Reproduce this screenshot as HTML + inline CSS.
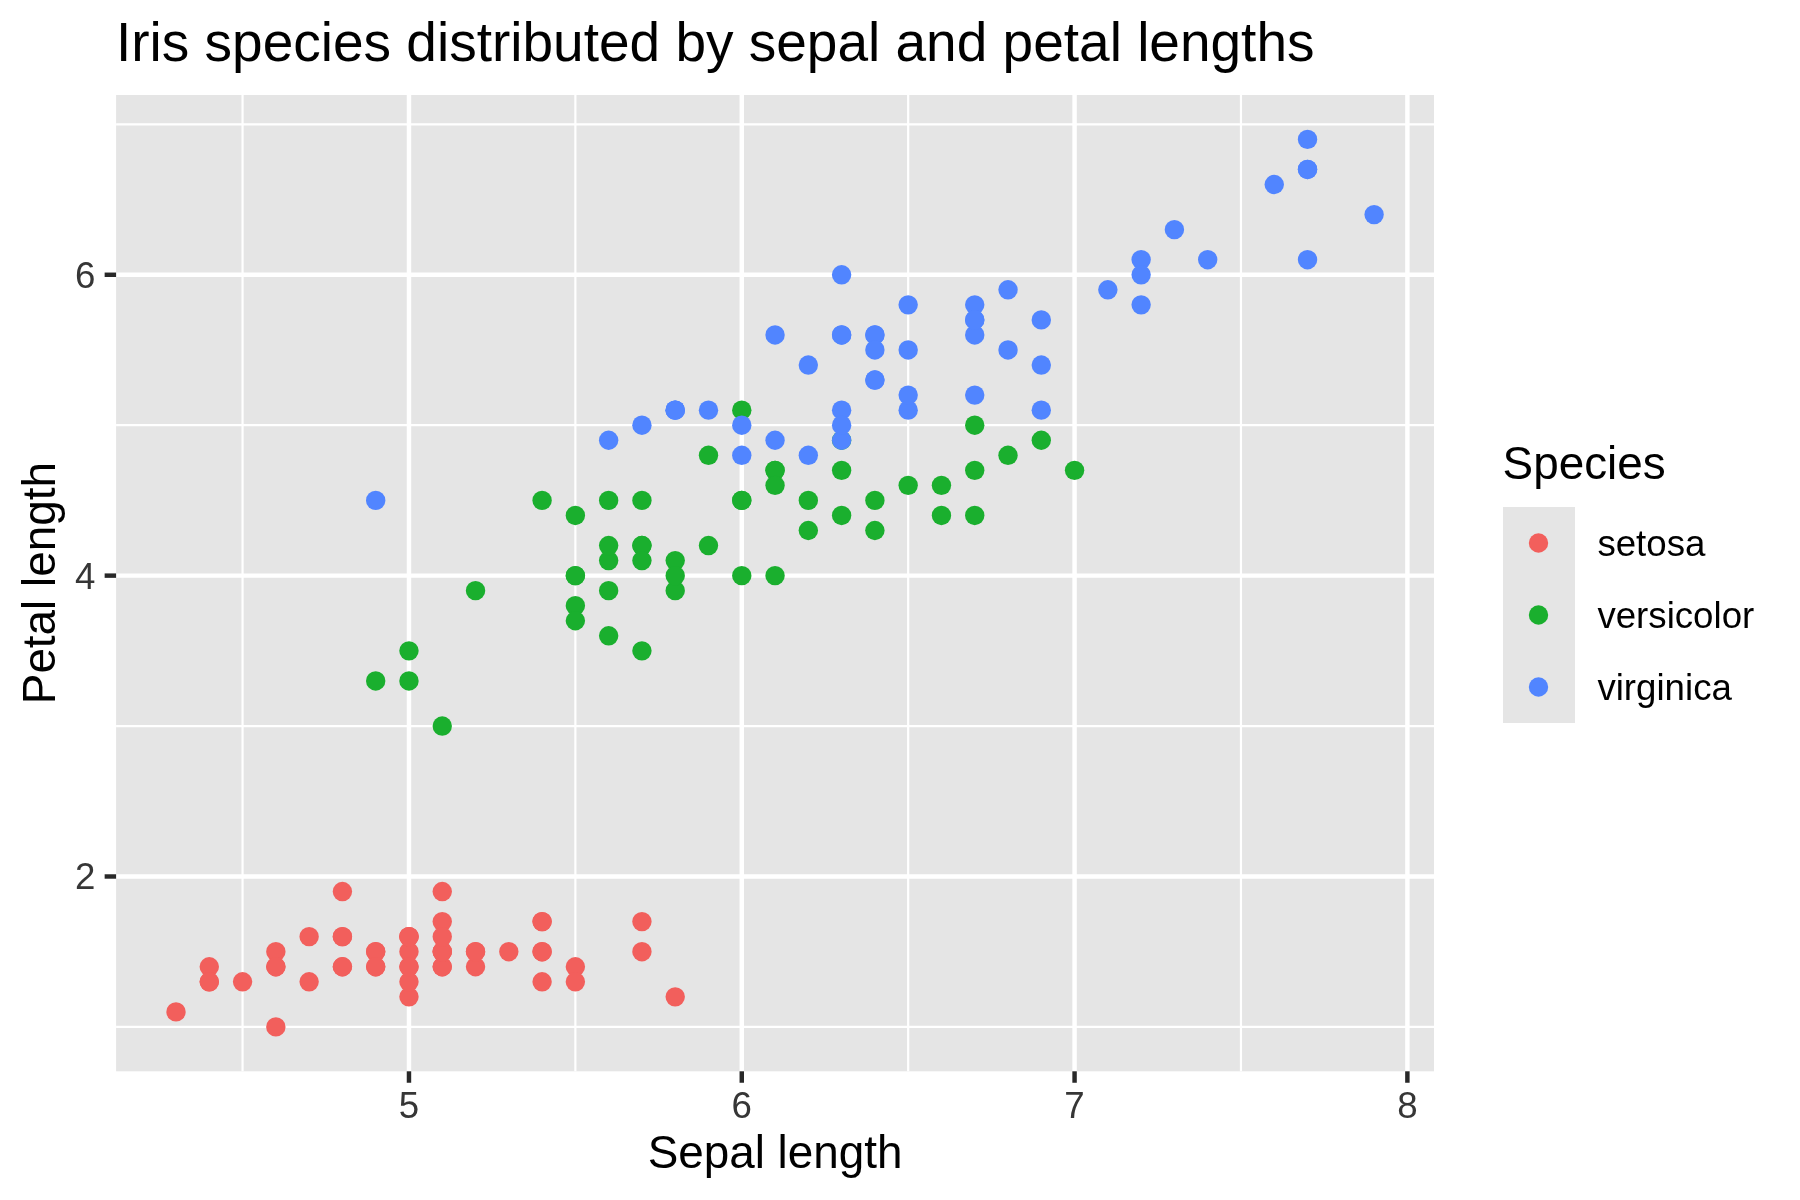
<!DOCTYPE html><html><head><meta charset="utf-8"><style>html,body{margin:0;padding:0;background:#fff;}svg{display:block;will-change:transform;transform:translateZ(0);}text{font-family:"Liberation Sans",sans-serif;}</style></head><body>
<svg width="1800" height="1200" viewBox="0 0 1800 1200">
<rect x="0" y="0" width="1800" height="1200" fill="#FFFFFF"/>
<rect x="116.10" y="95.00" width="1317.90" height="976.30" fill="#E5E5E5"/>
<line x1="116.10" x2="1434.00" y1="1026.92" y2="1026.92" stroke="#FFFFFF" stroke-width="2.2"/>
<line x1="116.10" x2="1434.00" y1="726.06" y2="726.06" stroke="#FFFFFF" stroke-width="2.2"/>
<line x1="116.10" x2="1434.00" y1="425.20" y2="425.20" stroke="#FFFFFF" stroke-width="2.2"/>
<line x1="116.10" x2="1434.00" y1="124.33" y2="124.33" stroke="#FFFFFF" stroke-width="2.2"/>
<line y1="95.00" y2="1071.30" x1="242.57" x2="242.57" stroke="#FFFFFF" stroke-width="2.2"/>
<line y1="95.00" y2="1071.30" x1="575.37" x2="575.37" stroke="#FFFFFF" stroke-width="2.2"/>
<line y1="95.00" y2="1071.30" x1="908.17" x2="908.17" stroke="#FFFFFF" stroke-width="2.2"/>
<line y1="95.00" y2="1071.30" x1="1240.97" x2="1240.97" stroke="#FFFFFF" stroke-width="2.2"/>
<line x1="116.10" x2="1434.00" y1="876.49" y2="876.49" stroke="#FFFFFF" stroke-width="4.45"/>
<line x1="116.10" x2="1434.00" y1="575.63" y2="575.63" stroke="#FFFFFF" stroke-width="4.45"/>
<line x1="116.10" x2="1434.00" y1="274.77" y2="274.77" stroke="#FFFFFF" stroke-width="4.45"/>
<line y1="95.00" y2="1071.30" x1="408.97" x2="408.97" stroke="#FFFFFF" stroke-width="4.45"/>
<line y1="95.00" y2="1071.30" x1="741.77" x2="741.77" stroke="#FFFFFF" stroke-width="4.45"/>
<line y1="95.00" y2="1071.30" x1="1074.57" x2="1074.57" stroke="#FFFFFF" stroke-width="4.45"/>
<line y1="95.00" y2="1071.30" x1="1407.38" x2="1407.38" stroke="#FFFFFF" stroke-width="4.45"/>
<circle cx="442.25" cy="966.75" r="9.7" fill="#F25F5C"/>
<circle cx="375.69" cy="966.75" r="9.7" fill="#F25F5C"/>
<circle cx="309.13" cy="981.79" r="9.7" fill="#F25F5C"/>
<circle cx="275.85" cy="951.71" r="9.7" fill="#F25F5C"/>
<circle cx="408.97" cy="966.75" r="9.7" fill="#F25F5C"/>
<circle cx="542.09" cy="921.62" r="9.7" fill="#F25F5C"/>
<circle cx="275.85" cy="966.75" r="9.7" fill="#F25F5C"/>
<circle cx="408.97" cy="951.71" r="9.7" fill="#F25F5C"/>
<circle cx="209.28" cy="966.75" r="9.7" fill="#F25F5C"/>
<circle cx="375.69" cy="951.71" r="9.7" fill="#F25F5C"/>
<circle cx="542.09" cy="951.71" r="9.7" fill="#F25F5C"/>
<circle cx="342.41" cy="936.66" r="9.7" fill="#F25F5C"/>
<circle cx="342.41" cy="966.75" r="9.7" fill="#F25F5C"/>
<circle cx="176.00" cy="1011.88" r="9.7" fill="#F25F5C"/>
<circle cx="675.21" cy="996.84" r="9.7" fill="#F25F5C"/>
<circle cx="641.93" cy="951.71" r="9.7" fill="#F25F5C"/>
<circle cx="542.09" cy="981.79" r="9.7" fill="#F25F5C"/>
<circle cx="442.25" cy="966.75" r="9.7" fill="#F25F5C"/>
<circle cx="641.93" cy="921.62" r="9.7" fill="#F25F5C"/>
<circle cx="442.25" cy="951.71" r="9.7" fill="#F25F5C"/>
<circle cx="542.09" cy="921.62" r="9.7" fill="#F25F5C"/>
<circle cx="442.25" cy="951.71" r="9.7" fill="#F25F5C"/>
<circle cx="275.85" cy="1026.92" r="9.7" fill="#F25F5C"/>
<circle cx="442.25" cy="921.62" r="9.7" fill="#F25F5C"/>
<circle cx="342.41" cy="891.53" r="9.7" fill="#F25F5C"/>
<circle cx="408.97" cy="936.66" r="9.7" fill="#F25F5C"/>
<circle cx="408.97" cy="936.66" r="9.7" fill="#F25F5C"/>
<circle cx="475.53" cy="951.71" r="9.7" fill="#F25F5C"/>
<circle cx="475.53" cy="966.75" r="9.7" fill="#F25F5C"/>
<circle cx="309.13" cy="936.66" r="9.7" fill="#F25F5C"/>
<circle cx="342.41" cy="936.66" r="9.7" fill="#F25F5C"/>
<circle cx="542.09" cy="951.71" r="9.7" fill="#F25F5C"/>
<circle cx="475.53" cy="951.71" r="9.7" fill="#F25F5C"/>
<circle cx="575.37" cy="966.75" r="9.7" fill="#F25F5C"/>
<circle cx="375.69" cy="951.71" r="9.7" fill="#F25F5C"/>
<circle cx="408.97" cy="996.84" r="9.7" fill="#F25F5C"/>
<circle cx="575.37" cy="981.79" r="9.7" fill="#F25F5C"/>
<circle cx="375.69" cy="966.75" r="9.7" fill="#F25F5C"/>
<circle cx="209.28" cy="981.79" r="9.7" fill="#F25F5C"/>
<circle cx="442.25" cy="951.71" r="9.7" fill="#F25F5C"/>
<circle cx="408.97" cy="981.79" r="9.7" fill="#F25F5C"/>
<circle cx="242.57" cy="981.79" r="9.7" fill="#F25F5C"/>
<circle cx="209.28" cy="981.79" r="9.7" fill="#F25F5C"/>
<circle cx="408.97" cy="936.66" r="9.7" fill="#F25F5C"/>
<circle cx="442.25" cy="891.53" r="9.7" fill="#F25F5C"/>
<circle cx="342.41" cy="966.75" r="9.7" fill="#F25F5C"/>
<circle cx="442.25" cy="936.66" r="9.7" fill="#F25F5C"/>
<circle cx="275.85" cy="966.75" r="9.7" fill="#F25F5C"/>
<circle cx="508.81" cy="951.71" r="9.7" fill="#F25F5C"/>
<circle cx="408.97" cy="966.75" r="9.7" fill="#F25F5C"/>
<circle cx="1074.57" cy="470.33" r="9.7" fill="#1AAF2E"/>
<circle cx="874.89" cy="500.41" r="9.7" fill="#1AAF2E"/>
<circle cx="1041.29" cy="440.24" r="9.7" fill="#1AAF2E"/>
<circle cx="575.37" cy="575.63" r="9.7" fill="#1AAF2E"/>
<circle cx="908.17" cy="485.37" r="9.7" fill="#1AAF2E"/>
<circle cx="641.93" cy="500.41" r="9.7" fill="#1AAF2E"/>
<circle cx="841.61" cy="470.33" r="9.7" fill="#1AAF2E"/>
<circle cx="375.69" cy="680.93" r="9.7" fill="#1AAF2E"/>
<circle cx="941.45" cy="485.37" r="9.7" fill="#1AAF2E"/>
<circle cx="475.53" cy="590.67" r="9.7" fill="#1AAF2E"/>
<circle cx="408.97" cy="650.84" r="9.7" fill="#1AAF2E"/>
<circle cx="708.49" cy="545.54" r="9.7" fill="#1AAF2E"/>
<circle cx="741.77" cy="575.63" r="9.7" fill="#1AAF2E"/>
<circle cx="775.05" cy="470.33" r="9.7" fill="#1AAF2E"/>
<circle cx="608.65" cy="635.80" r="9.7" fill="#1AAF2E"/>
<circle cx="974.73" cy="515.46" r="9.7" fill="#1AAF2E"/>
<circle cx="608.65" cy="500.41" r="9.7" fill="#1AAF2E"/>
<circle cx="675.21" cy="560.59" r="9.7" fill="#1AAF2E"/>
<circle cx="808.33" cy="500.41" r="9.7" fill="#1AAF2E"/>
<circle cx="608.65" cy="590.67" r="9.7" fill="#1AAF2E"/>
<circle cx="708.49" cy="455.28" r="9.7" fill="#1AAF2E"/>
<circle cx="775.05" cy="575.63" r="9.7" fill="#1AAF2E"/>
<circle cx="841.61" cy="440.24" r="9.7" fill="#1AAF2E"/>
<circle cx="775.05" cy="470.33" r="9.7" fill="#1AAF2E"/>
<circle cx="874.89" cy="530.50" r="9.7" fill="#1AAF2E"/>
<circle cx="941.45" cy="515.46" r="9.7" fill="#1AAF2E"/>
<circle cx="1008.01" cy="455.28" r="9.7" fill="#1AAF2E"/>
<circle cx="974.73" cy="425.20" r="9.7" fill="#1AAF2E"/>
<circle cx="741.77" cy="500.41" r="9.7" fill="#1AAF2E"/>
<circle cx="641.93" cy="650.84" r="9.7" fill="#1AAF2E"/>
<circle cx="575.37" cy="605.71" r="9.7" fill="#1AAF2E"/>
<circle cx="575.37" cy="620.76" r="9.7" fill="#1AAF2E"/>
<circle cx="675.21" cy="590.67" r="9.7" fill="#1AAF2E"/>
<circle cx="741.77" cy="410.15" r="9.7" fill="#1AAF2E"/>
<circle cx="542.09" cy="500.41" r="9.7" fill="#1AAF2E"/>
<circle cx="741.77" cy="500.41" r="9.7" fill="#1AAF2E"/>
<circle cx="974.73" cy="470.33" r="9.7" fill="#1AAF2E"/>
<circle cx="841.61" cy="515.46" r="9.7" fill="#1AAF2E"/>
<circle cx="608.65" cy="560.59" r="9.7" fill="#1AAF2E"/>
<circle cx="575.37" cy="575.63" r="9.7" fill="#1AAF2E"/>
<circle cx="575.37" cy="515.46" r="9.7" fill="#1AAF2E"/>
<circle cx="775.05" cy="485.37" r="9.7" fill="#1AAF2E"/>
<circle cx="675.21" cy="575.63" r="9.7" fill="#1AAF2E"/>
<circle cx="408.97" cy="680.93" r="9.7" fill="#1AAF2E"/>
<circle cx="608.65" cy="545.54" r="9.7" fill="#1AAF2E"/>
<circle cx="641.93" cy="545.54" r="9.7" fill="#1AAF2E"/>
<circle cx="641.93" cy="545.54" r="9.7" fill="#1AAF2E"/>
<circle cx="808.33" cy="530.50" r="9.7" fill="#1AAF2E"/>
<circle cx="442.25" cy="726.06" r="9.7" fill="#1AAF2E"/>
<circle cx="641.93" cy="560.59" r="9.7" fill="#1AAF2E"/>
<circle cx="841.61" cy="274.77" r="9.7" fill="#5185FF"/>
<circle cx="675.21" cy="410.15" r="9.7" fill="#5185FF"/>
<circle cx="1107.85" cy="289.81" r="9.7" fill="#5185FF"/>
<circle cx="841.61" cy="334.94" r="9.7" fill="#5185FF"/>
<circle cx="908.17" cy="304.85" r="9.7" fill="#5185FF"/>
<circle cx="1274.25" cy="184.51" r="9.7" fill="#5185FF"/>
<circle cx="375.69" cy="500.41" r="9.7" fill="#5185FF"/>
<circle cx="1174.41" cy="229.64" r="9.7" fill="#5185FF"/>
<circle cx="974.73" cy="304.85" r="9.7" fill="#5185FF"/>
<circle cx="1141.13" cy="259.72" r="9.7" fill="#5185FF"/>
<circle cx="908.17" cy="410.15" r="9.7" fill="#5185FF"/>
<circle cx="874.89" cy="380.07" r="9.7" fill="#5185FF"/>
<circle cx="1008.01" cy="349.98" r="9.7" fill="#5185FF"/>
<circle cx="641.93" cy="425.20" r="9.7" fill="#5185FF"/>
<circle cx="675.21" cy="410.15" r="9.7" fill="#5185FF"/>
<circle cx="874.89" cy="380.07" r="9.7" fill="#5185FF"/>
<circle cx="908.17" cy="349.98" r="9.7" fill="#5185FF"/>
<circle cx="1307.53" cy="169.46" r="9.7" fill="#5185FF"/>
<circle cx="1307.53" cy="139.38" r="9.7" fill="#5185FF"/>
<circle cx="741.77" cy="425.20" r="9.7" fill="#5185FF"/>
<circle cx="1041.29" cy="319.89" r="9.7" fill="#5185FF"/>
<circle cx="608.65" cy="440.24" r="9.7" fill="#5185FF"/>
<circle cx="1307.53" cy="169.46" r="9.7" fill="#5185FF"/>
<circle cx="841.61" cy="440.24" r="9.7" fill="#5185FF"/>
<circle cx="974.73" cy="319.89" r="9.7" fill="#5185FF"/>
<circle cx="1141.13" cy="274.77" r="9.7" fill="#5185FF"/>
<circle cx="808.33" cy="455.28" r="9.7" fill="#5185FF"/>
<circle cx="775.05" cy="440.24" r="9.7" fill="#5185FF"/>
<circle cx="874.89" cy="334.94" r="9.7" fill="#5185FF"/>
<circle cx="1141.13" cy="304.85" r="9.7" fill="#5185FF"/>
<circle cx="1207.69" cy="259.72" r="9.7" fill="#5185FF"/>
<circle cx="1374.10" cy="214.59" r="9.7" fill="#5185FF"/>
<circle cx="874.89" cy="334.94" r="9.7" fill="#5185FF"/>
<circle cx="841.61" cy="410.15" r="9.7" fill="#5185FF"/>
<circle cx="775.05" cy="334.94" r="9.7" fill="#5185FF"/>
<circle cx="1307.53" cy="259.72" r="9.7" fill="#5185FF"/>
<circle cx="841.61" cy="334.94" r="9.7" fill="#5185FF"/>
<circle cx="874.89" cy="349.98" r="9.7" fill="#5185FF"/>
<circle cx="741.77" cy="455.28" r="9.7" fill="#5185FF"/>
<circle cx="1041.29" cy="365.02" r="9.7" fill="#5185FF"/>
<circle cx="974.73" cy="334.94" r="9.7" fill="#5185FF"/>
<circle cx="1041.29" cy="410.15" r="9.7" fill="#5185FF"/>
<circle cx="675.21" cy="410.15" r="9.7" fill="#5185FF"/>
<circle cx="1008.01" cy="289.81" r="9.7" fill="#5185FF"/>
<circle cx="974.73" cy="319.89" r="9.7" fill="#5185FF"/>
<circle cx="974.73" cy="395.11" r="9.7" fill="#5185FF"/>
<circle cx="841.61" cy="425.20" r="9.7" fill="#5185FF"/>
<circle cx="908.17" cy="395.11" r="9.7" fill="#5185FF"/>
<circle cx="808.33" cy="365.02" r="9.7" fill="#5185FF"/>
<circle cx="708.49" cy="410.15" r="9.7" fill="#5185FF"/>
<line x1="104.64" x2="116.10" y1="876.49" y2="876.49" stroke="#282828" stroke-width="4.45"/>
<text x="95.50" y="889.49" font-size="36.67" fill="#363636" text-anchor="end">2</text>
<line x1="104.64" x2="116.10" y1="575.63" y2="575.63" stroke="#282828" stroke-width="4.45"/>
<text x="95.50" y="588.63" font-size="36.67" fill="#363636" text-anchor="end">4</text>
<line x1="104.64" x2="116.10" y1="274.77" y2="274.77" stroke="#282828" stroke-width="4.45"/>
<text x="95.50" y="287.77" font-size="36.67" fill="#363636" text-anchor="end">6</text>
<line y1="1071.30" y2="1082.76" x1="408.97" x2="408.97" stroke="#282828" stroke-width="4.45"/>
<text x="408.97" y="1117.80" font-size="36.67" fill="#363636" text-anchor="middle">5</text>
<line y1="1071.30" y2="1082.76" x1="741.77" x2="741.77" stroke="#282828" stroke-width="4.45"/>
<text x="741.77" y="1117.80" font-size="36.67" fill="#363636" text-anchor="middle">6</text>
<line y1="1071.30" y2="1082.76" x1="1074.57" x2="1074.57" stroke="#282828" stroke-width="4.45"/>
<text x="1074.57" y="1117.80" font-size="36.67" fill="#363636" text-anchor="middle">7</text>
<line y1="1071.30" y2="1082.76" x1="1407.38" x2="1407.38" stroke="#282828" stroke-width="4.45"/>
<text x="1407.38" y="1117.80" font-size="36.67" fill="#363636" text-anchor="middle">8</text>
<text x="116.0" y="60.5" font-size="55.0" fill="#000000">Iris species distributed by sepal and petal lengths</text>
<text x="775.05" y="1168" font-size="45.83" fill="#000000" text-anchor="middle">Sepal length</text>
<text transform="translate(54.8,583.15) rotate(-90)" x="0" y="0" font-size="45.83" fill="#000000" text-anchor="middle">Petal length</text>
<text x="1502.6" y="479.2" font-size="45.83" fill="#000000">Species</text>
<rect x="1503.0" y="507.0" width="72.0" height="216.0" fill="#E5E5E5"/>
<circle cx="1538.50" cy="543.00" r="9.7" fill="#F25F5C"/>
<text x="1597.4" y="555.50" font-size="36.67" fill="#000000">setosa</text>
<circle cx="1538.50" cy="615.00" r="9.7" fill="#1AAF2E"/>
<text x="1597.4" y="627.50" font-size="36.67" fill="#000000">versicolor</text>
<circle cx="1538.50" cy="687.00" r="9.7" fill="#5185FF"/>
<text x="1597.4" y="699.50" font-size="36.67" fill="#000000">virginica</text>
</svg></body></html>
